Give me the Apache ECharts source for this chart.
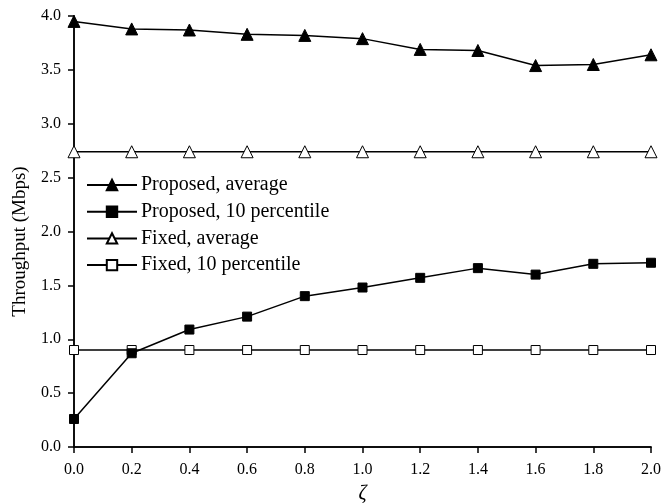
<!DOCTYPE html>
<html>
<head>
<meta charset="utf-8">
<script src="https://cdn.jsdelivr.net/npm/echarts@6/dist/echarts.min.js"></script>
<style>html,body{margin:0;padding:0;background:#fff}#c{width:663px;height:504px}</style>
</head>
<body>
<div id="c"></div>
<script>
var xCategories = [0.0, 0.2, 0.4, 0.6, 0.8, 1.0, 1.2, 1.4, 1.6, 1.8, 2.0];
var proposedAverage = [3.95, 3.88, 3.87, 3.83, 3.82, 3.79, 3.69, 3.68, 3.54, 3.55, 3.64];
var proposed10 = [0.26, 0.87, 1.09, 1.21, 1.40, 1.48, 1.57, 1.66, 1.60, 1.70, 1.71];
var fixedAverage = [2.74, 2.74, 2.74, 2.74, 2.74, 2.74, 2.74, 2.74, 2.74, 2.74, 2.74];
var fixed10 = [0.90, 0.90, 0.90, 0.90, 0.90, 0.90, 0.90, 0.90, 0.90, 0.90, 0.90];
var seriesNames = ['Proposed, average', 'Proposed, 10 percentile', 'Fixed, average', 'Fixed, 10 percentile'];

function pairs(vals){ return xCategories.map(function(x,i){return [x, vals[i]];}); }

var font = 'Liberation Serif, Times New Roman, serif';
var chart = echarts.init(document.getElementById('c'), null, {renderer:'canvas'});
function mk(name, vals, symbol, size, filled){
  return {
    name: name, type: 'line', data: pairs(vals), symbol: symbol, symbolSize: size,
    showAllSymbol: true, clip: false,
    lineStyle: {color: '#000', width: 1.5},
    itemStyle: {color: filled ? '#000' : '#fff', borderColor: '#000', borderWidth: 1},
    emphasis: {disabled: true}, z: filled ? 3 : 2
  };
}
chart.setOption({
  animation: false,
  backgroundColor: '#fff',
  grid: {left: 74, right: 12, top: 16, bottom: 57, containLabel: false, outerBoundsMode: 'none'},
  legend: {
    left: 86, top: 175, orient: 'vertical', itemWidth: 50, itemHeight: 13, itemGap: 6.7,
    padding: 0,
    data: seriesNames,
    textStyle: {fontFamily: font, fontSize: 20, lineHeight: 20, color: '#000', padding: [0,0,0,-1]}
  },
  xAxis: [{
    type: 'value', min: 0, max: 2, interval: 0.2,
    name: 'ζ', nameLocation: 'middle', nameGap: 37,
    nameTextStyle: {fontFamily: font, fontSize: 20, fontStyle: 'italic', color: '#000'},
    axisLine: {onZero: false, lineStyle: {color: '#000', width: 1.5}},
    axisTick: {show: true, length: 6, lineStyle: {color: '#000', width: 1.5}},
    axisLabel: {fontFamily: font, fontSize: 16, color: '#000', margin: 15,
      formatter: function(v){return v.toFixed(1);}},
    splitLine: {show: false}
  },{
    type: 'value', min: 0, max: 2, interval: 0.2, position: 'top',
    axisLine: {lineStyle: {color: '#000', width: 1.5}},
    axisTick: {show: true, inside: true, length: 3, lineStyle: {color: '#000', width: 1.5}},
    axisLabel: {show: false}, splitLine: {show: false}
  }],
  yAxis: [{
    type: 'value', min: 0, max: 4, interval: 0.5,
    name: 'Throughput (Mbps)', nameLocation: 'middle', nameGap: 44,
    nameTextStyle: {fontFamily: font, fontSize: 19, color: '#000', padding: [0, 20, 0, 0]},
    axisLine: {show: true, onZero: false, lineStyle: {color: '#000', width: 1.5}},
    axisTick: {show: true, length: 6, lineStyle: {color: '#000', width: 1.5}},
    axisLabel: {fontFamily: font, fontSize: 16, color: '#000', margin: 13,
      formatter: function(v){return v.toFixed(1);}},
    splitLine: {show: false}
  },{
    type: 'value', min: 0, max: 4, interval: 0.5, position: 'right',
    axisLine: {show: true, lineStyle: {color: '#000', width: 1.5}},
    axisTick: {show: true, inside: true, length: 3, lineStyle: {color: '#000', width: 1.5}},
    axisLabel: {show: false}, splitLine: {show: false}
  }],
  series: [
    mk(seriesNames[0], proposedAverage, 'triangle', 12, true),
    mk(seriesNames[1], proposed10, 'rect', 9, true),
    mk(seriesNames[2], fixedAverage, 'triangle', 12, false),
    mk(seriesNames[3], fixed10, 'rect', 9, false)
  ]
});
</script>
</body>
</html>
